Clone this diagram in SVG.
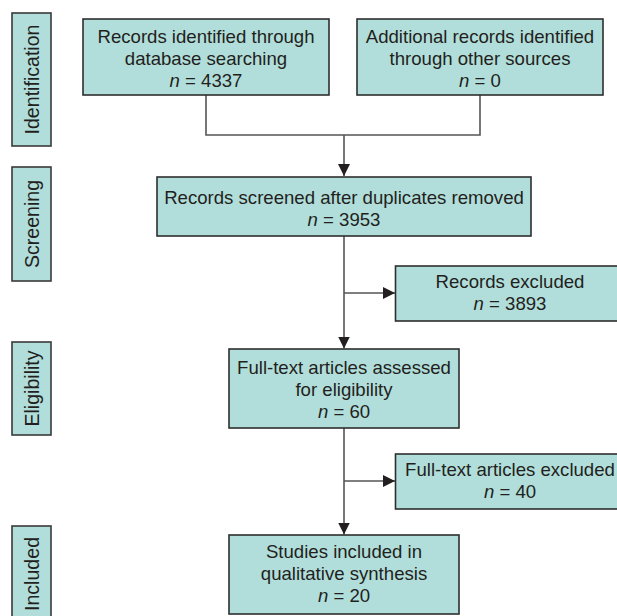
<svg xmlns="http://www.w3.org/2000/svg" width="617" height="616" viewBox="0 0 617 616">
<style>
.box{fill:#b1deda;stroke:#2e2e2e;stroke-width:1.6}
.side{fill:#b1deda;stroke:#3a3a3a;stroke-width:1.6}
.t{font-family:"Liberation Sans",Arial,sans-serif;font-size:18.6px;fill:#231f20;text-anchor:middle}
.s{font-family:"Liberation Sans",Arial,sans-serif;font-size:19.6px;fill:#231f20;text-anchor:middle}
.i{font-style:italic}
.c{fill:none;stroke:#555;stroke-width:1.6}
</style>
<defs>
<marker id="ah" markerUnits="userSpaceOnUse" markerWidth="12" markerHeight="12" refX="12" refY="6" orient="auto">
<path d="M0,0 L12,6 L0,12 z" fill="#231f20"/>
</marker>
</defs>
<rect width="617" height="616" fill="#fff"/>
<g id="phases">
<g id="phase-identification"><rect class="side" x="12" y="13" width="39" height="133"/><text class="s" transform="translate(38.8,79.5) rotate(-90)">Identification</text></g>
<g id="phase-screening"><rect class="side" x="12" y="167" width="39" height="114"/><text class="s" transform="translate(38.8,224) rotate(-90)">Screening</text></g>
<g id="phase-eligibility"><rect class="side" x="12" y="342" width="39" height="93"/><text class="s" transform="translate(38.8,388.5) rotate(-90)">Eligibility</text></g>
<g id="phase-included"><rect class="side" x="12" y="526" width="39" height="100"/><text class="s" transform="translate(38.8,574) rotate(-90)">Included</text></g>
</g>
<g id="connectors">
<path class="c" d="M206 95 V135 H480 V95"/>
<path class="c" d="M344 135 V176" marker-end="url(#ah)"/>
<path class="c" d="M344 236 V348.5" marker-end="url(#ah)"/>
<path class="c" d="M344 293 H395" marker-end="url(#ah)"/>
<path class="c" d="M344 428 V534.5" marker-end="url(#ah)"/>
<path class="c" d="M344 481 H395" marker-end="url(#ah)"/>
</g>
<g id="n1"><rect class="box" x="83" y="19" width="246" height="76"/>
<text class="t" x="206" y="42.5">Records identified through</text>
<text class="t" x="206" y="65">database searching</text>
<text class="t" x="206" y="87.3"><tspan class="i">n</tspan> = 4337</text></g>
<g id="n2"><rect class="box" x="357" y="19" width="246" height="76"/>
<text class="t" x="480" y="42.5">Additional records identified</text>
<text class="t" x="480" y="65">through other sources</text>
<text class="t" x="480" y="87.3"><tspan class="i">n</tspan> = 0</text></g>
<g id="n3"><rect class="box" x="157" y="177" width="374" height="59"/>
<text class="t" x="344" y="203.7">Records screened after duplicates removed</text>
<text class="t" x="344" y="226"><tspan class="i">n</tspan> = 3953</text></g>
<g id="n4"><rect class="box" x="395.5" y="266" width="230" height="55"/>
<text class="t" x="510" y="288">Records excluded</text>
<text class="t" x="510" y="310"><tspan class="i">n</tspan> = 3893</text></g>
<g id="n5"><rect class="box" x="229" y="349" width="230" height="79"/>
<text class="t" x="344" y="373.5">Full-text articles assessed</text>
<text class="t" x="344" y="396">for eligibility</text>
<text class="t" x="344" y="418.3"><tspan class="i">n</tspan> = 60</text></g>
<g id="n6"><rect class="box" x="395.5" y="454" width="230" height="55"/>
<text class="t" x="510" y="476">Full-text articles excluded</text>
<text class="t" x="510" y="498"><tspan class="i">n</tspan> = 40</text></g>
<g id="n7"><rect class="box" x="229" y="535" width="230" height="79"/>
<text class="t" x="344" y="557.7">Studies included in</text>
<text class="t" x="344" y="580">qualitative synthesis</text>
<text class="t" x="344" y="602.3"><tspan class="i">n</tspan> = 20</text></g>
</svg>
